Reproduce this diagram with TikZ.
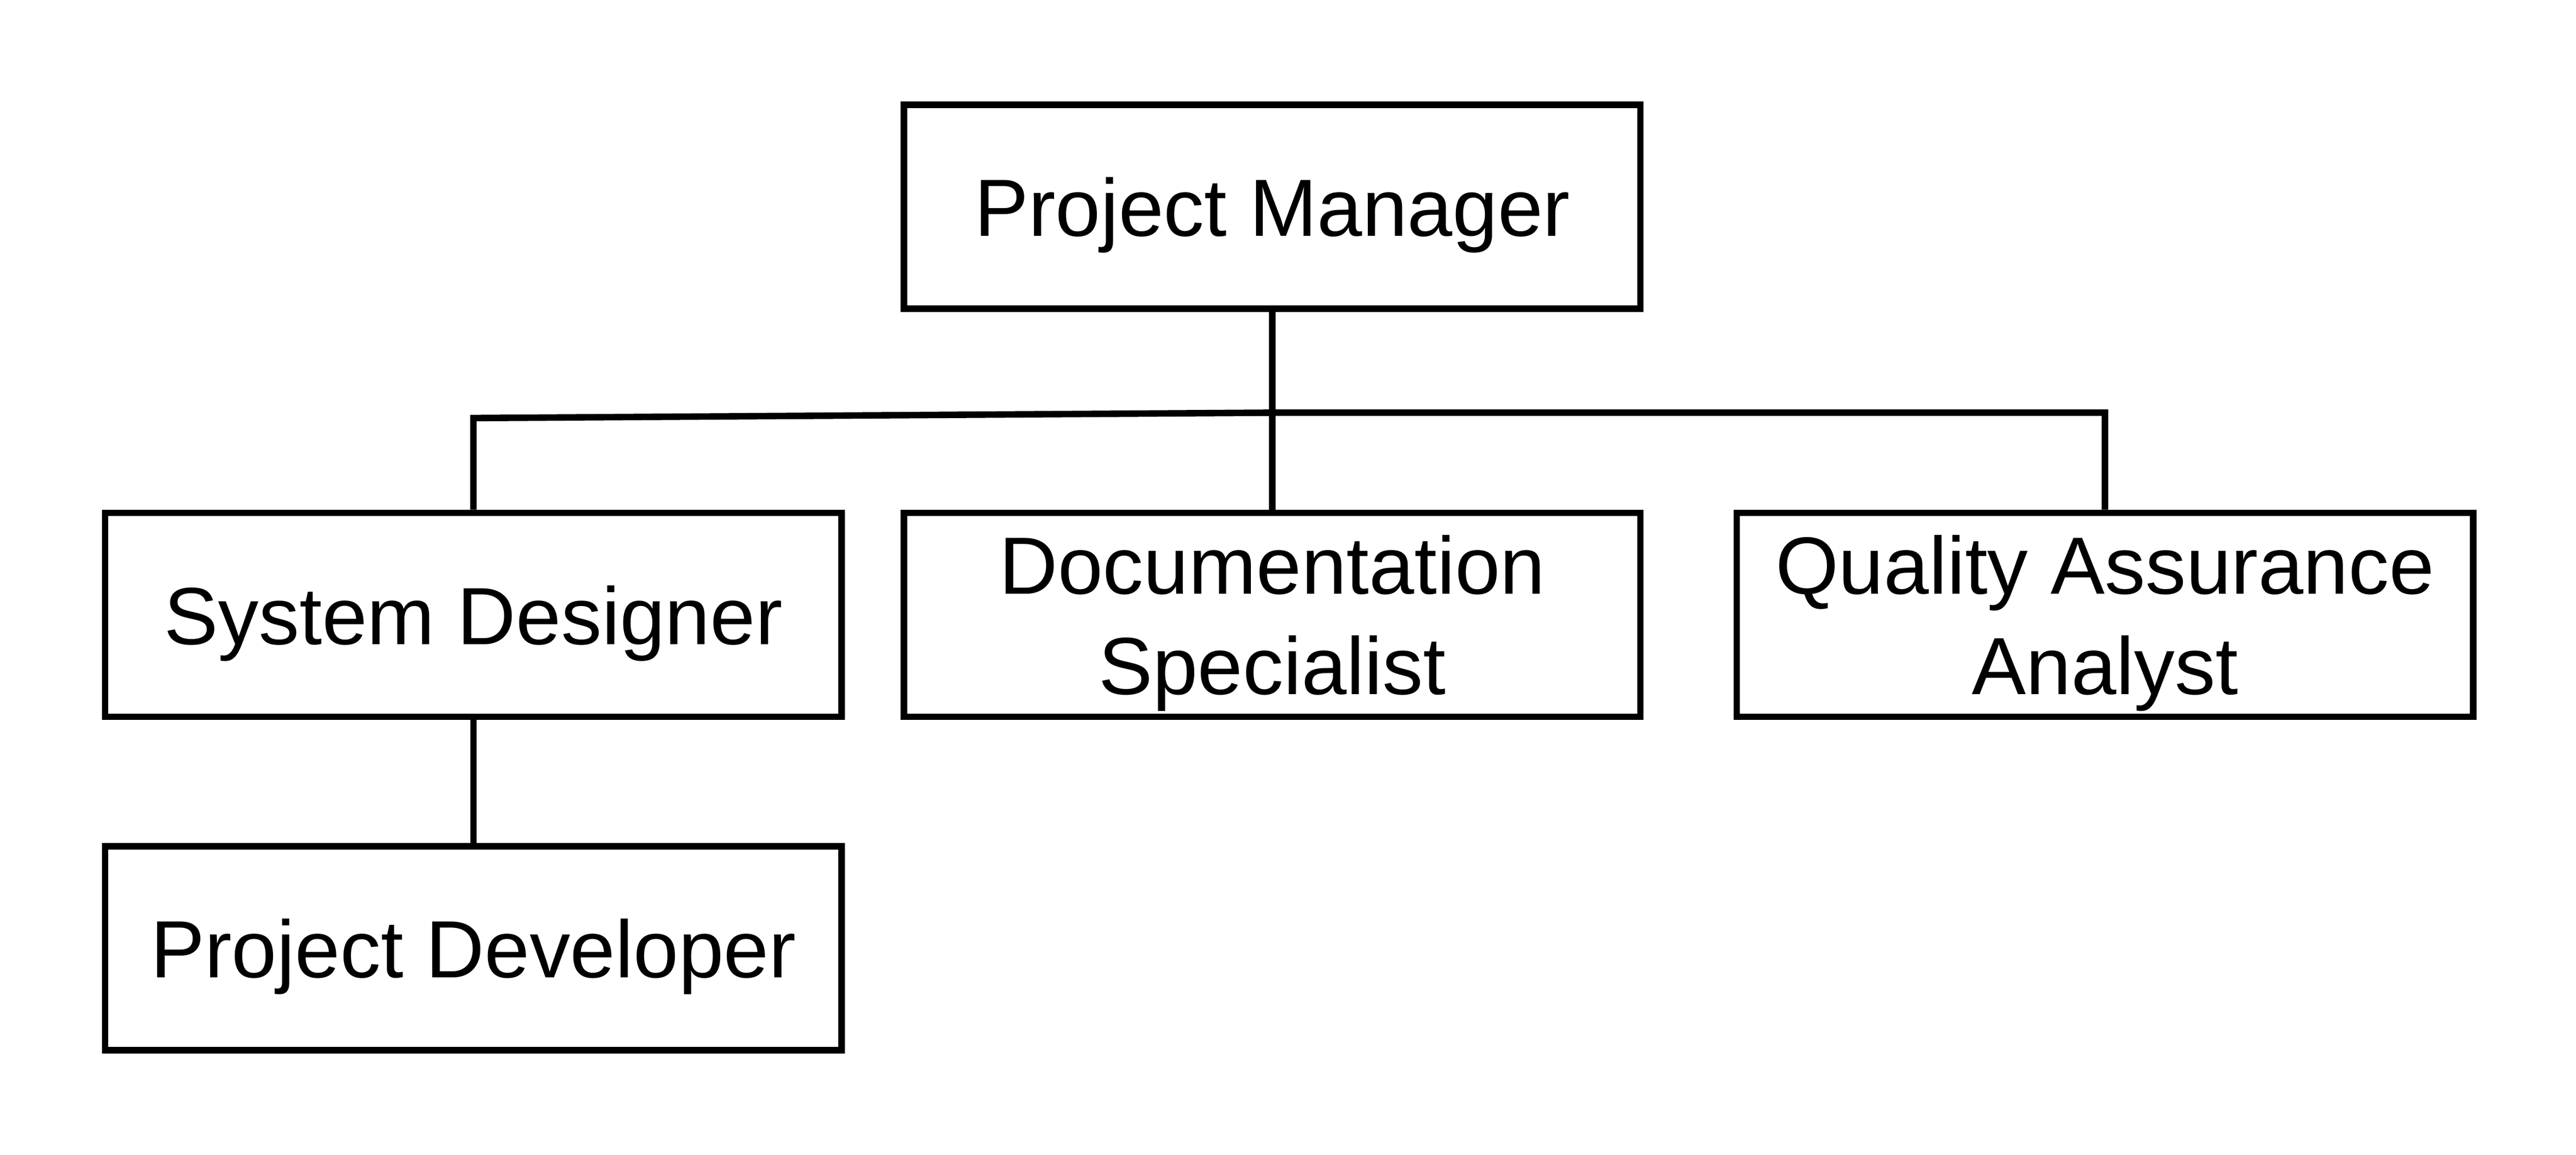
\documentclass[tikz,border=0pt]{standalone}
\usepackage{fontspec}
\setmainfont{Liberation Sans}
\usepackage{tikz}
\usetikzlibrary{positioning}
\tikzstyle{role}=[rectangle,draw=black,line width=4.8pt,minimum width=19.12cm,minimum height=5.3cm,inner sep=0pt,text depth=0pt,align=center,font=\fontsize{60}{74}\selectfont]
\tikzstyle{link}=[draw=black,line width=4.8pt]

\begin{document}
\begin{tikzpicture}[node distance=10.6cm]
		\useasboundingbox (0,0) rectangle (66.88,-30);
		\node (pos1) [role] at (33.03,-5.37) {Project Manager};
		\node (pos3) [role, below of=pos1] {Documentation\\Specialist};
		\node (pos2) [role, left of=pos3, xshift=-10.14cm] {System Designer};
		\node (pos4) [role, right of=pos3, xshift=11.02cm] {Quality Assurance\\Analyst};
		\node (pos5) [role, below of=pos2, yshift=1.94cm] {Project Developer};
		\coordinate (jl) at (12.29,-10.86);
		\coordinate (jm) at (33.03,-10.72);
		
		\draw[link] (pos1) -- (pos3);
		\draw[link] (pos2.north) -- (jl) -- (jm) -| (pos4.north);
		\draw[link] (pos2) -- (pos5);
		
		\end{tikzpicture}
\end{document}
